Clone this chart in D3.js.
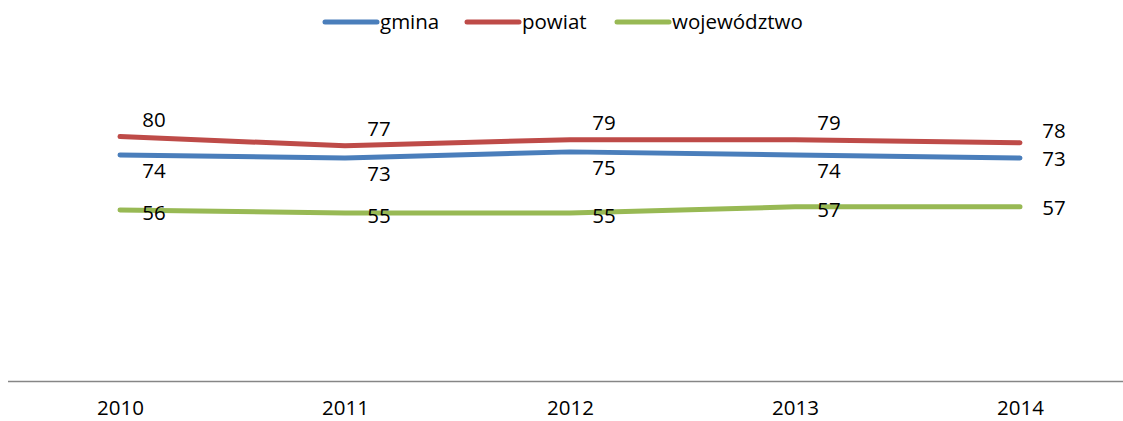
<!DOCTYPE html>
<html><head><meta charset="utf-8">
<script src="https://cdn.jsdelivr.net/npm/d3@7"></script>
<style>html,body{margin:0;padding:0;background:#fff;}svg{display:block;font-family:"Open Sans",sans-serif;}</style>
</head><body><svg id="c" width="1123" height="421"></svg>
<script>
const years = ["2010","2011","2012","2013","2014"];
const seriesNames = ["gmina","powiat","województwo"];
const gmina = [74,73,75,74,73];
const powiat = [80,77,79,79,78];
const wojewodztwo = [56,55,55,57,57];
const colors = ["#4A7EBB","#BE4B48","#98B954"];

const series = [
  {name: seriesNames[0], values: gmina, color: colors[0], dy: 16, dyLast: 1},
  {name: seriesNames[1], values: powiat, color: colors[1], dy: -17, dyLast: -12},
  {name: seriesNames[2], values: wojewodztwo, color: colors[2], dy: 3, dyLast: 1}
];
const FS = 20.5;

const svg = d3.select("#c");
const x = d3.scalePoint().domain(years).range([120, 1020]);
const y = d3.scaleLinear().domain([0,100]).range([381, 75.5]);

// axis
const axis = d3.axisBottom(x).tickSize(0).tickPadding(0);
const gx = svg.append("g").attr("transform","translate(0,381.5)").call(axis);
gx.select(".domain").remove();
gx.append("line").attr("x1",8).attr("x2",1123).attr("y1",0).attr("y2",0)
  .attr("stroke","#868686").attr("stroke-width",1.6);
gx.selectAll(".tick text").attr("font-size",FS).attr("fill","#000")
  .attr("font-family","Open Sans, sans-serif").attr("dy",0).attr("y",33);

const line = d3.line().x((d,i)=>x(years[i])).y(d=>y(d));
series.forEach(s=>{
  svg.append("path").datum(s.values).attr("d",line).attr("fill","none")
    .attr("stroke",s.color).attr("stroke-width",5).attr("stroke-linecap","round").attr("stroke-linejoin","round");
});
series.forEach(s=>{
  svg.append("g").selectAll("text").data(s.values).join("text")
    .attr("x",(d,i)=>x(years[i]) + 34)
    .attr("y",(d,i)=>y(d) + (i===years.length-1 ? s.dyLast : s.dy))
    .attr("dy","0.35em").attr("text-anchor","middle")
    .attr("font-size",FS).attr("fill","#000").text(d=>d);
});

// legend
const legendX = [325, 467, 617];
series.forEach((s,i)=>{
  const g = svg.append("g").attr("transform",`translate(${legendX[i]},22)`);
  g.append("line").attr("x1",0).attr("x2",52).attr("y1",0).attr("y2",0)
    .attr("stroke",s.color).attr("stroke-width",5).attr("stroke-linecap","round");
  g.append("text").attr("x",55).attr("y",0).attr("dy","0.35em").attr("font-size",FS)
    .attr("fill","#000").text(s.name);
});
</script></body></html>
